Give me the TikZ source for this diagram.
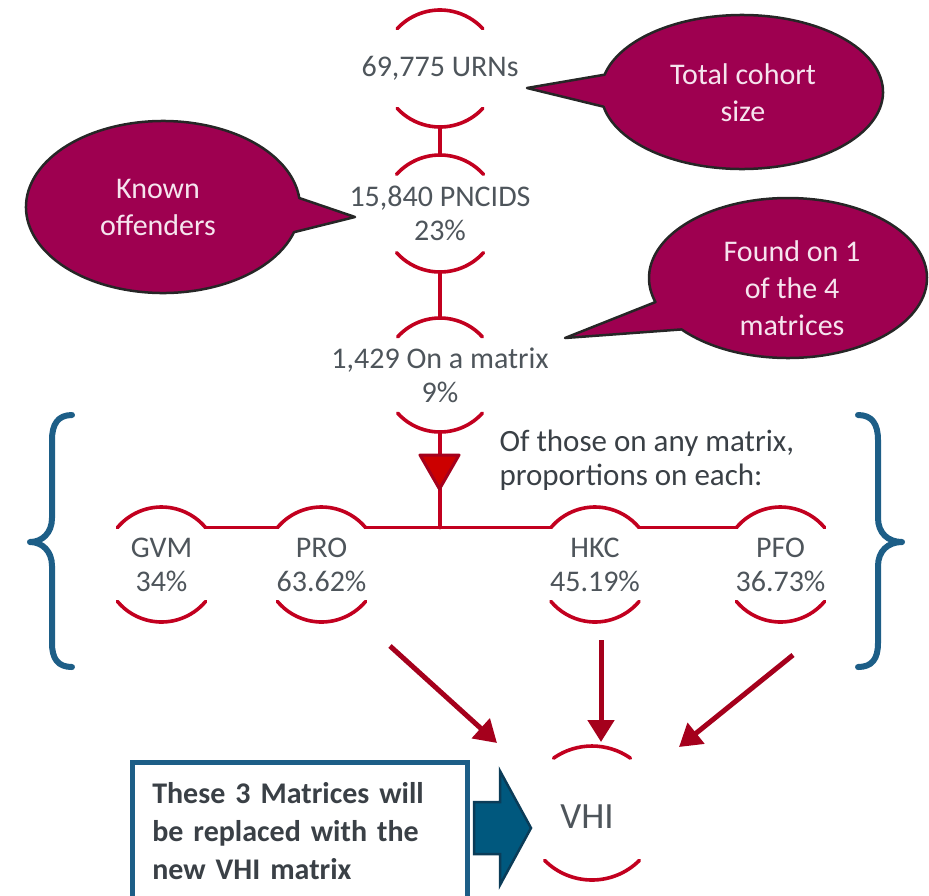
\documentclass[tikz,border=0pt]{standalone}
\usepackage{fontspec}
\setmainfont{Carlito}
\usetikzlibrary{arrows.meta,calc}
\definecolor{MXRed}{HTML}{C2001F}
\definecolor{MXDark}{HTML}{A5001C}
\definecolor{MXTri}{HTML}{CC0000}
\definecolor{MXPlum}{HTML}{9E0050}
\definecolor{MXBlue}{HTML}{1D5E87}
\definecolor{MXTeal}{HTML}{00587E}
\definecolor{MXDeep}{HTML}{0B3C58}
\definecolor{MXInk}{HTML}{4E555B}
\definecolor{MXText}{HTML}{3A4046}
\definecolor{MXPink}{HTML}{F6E4EE}

\tikzset{
  ringline/.style={MXRed,line width=3.6pt,line cap=round},
  ring/.style={circle,inner sep=0pt,outer sep=0pt},
  ringtext/.style={align=center,text=MXInk,font=\fontsize{30}{34}\selectfont},
  callout/.style={fill=MXPlum,draw=black!85,line width=2.5pt,line join=round},
  callouttext/.style={align=center,text=MXPink,font=\fontsize{30}{37}\selectfont},
  feed/.style={MXDark,line width=5pt,-{Triangle[length=22pt,width=26pt]}},
  bracket/.style={MXBlue,line width=6pt,line cap=round,line join=round},
}
% two arcs of a ring: node, radius, half opening of top arc, half opening of bottom arc
\newcommand\ringarcs[4]{%
  \draw[ringline] (#1.center) ++({-90-#3}:#2) arc[start angle={-90-#3},end angle={-90+#3},radius=#2];
  \draw[ringline] (#1.center) ++({90-#4}:#2) arc[start angle={90-#4},end angle={90+#4},radius=#2];
}

\begin{document}
\begin{tikzpicture}[x=1pt,y=-1pt]
\path[use as bounding box] (0,0) rectangle (929,895);

% callouts
\filldraw[callout] (742,92) ++(193:141 and 77) -- (527,88) -- ($(742,92)+(169:141 and 77)$) arc[start angle=169,end angle=-167,x radius=141,y radius=77] -- cycle;
\node[callouttext] (cohort) at (743,93) {Total cohort\\size};

\filldraw[callout] (163,207) ++(-6:137 and 86) -- (355,217) -- ($(163,207)+(17:137 and 86)$) arc[start angle=17,end angle=354,x radius=137,y radius=86] -- cycle;
\node[callouttext] (known) at (158,207) {Known\\offenders};

\filldraw[callout] (788,278) ++(162.5:139 and 80) -- (565,338) -- ($(788,278)+(140:139 and 80)$) arc[start angle=140,end angle=-197.5,x radius=139,y radius=80] -- cycle;
\node[callouttext] (found) at (792,288) {Found on 1\\of the 4\\matrices};

% funnel
\node[ring,minimum size=117,label={[ringtext]center:{69,775 URNs}}] (urns) at (440,68.5) {};
\ringarcs{urns}{58.5}{47}{47}
\node[ring,minimum size=117,label={[ringtext]center:{15,840 PNCIDS\\23\%}}] (pncids) at (440,213.5) {};
\ringarcs{pncids}{58.5}{48}{48}
\node[ring,minimum size=114,label={[ringtext]center:{1,429 On a matrix\\9\%}}] (onmatrix) at (440,375) {};
\ringarcs{onmatrix}{57}{48}{48}
\draw[ringline] (urns.south) -- (pncids.north);
\draw[ringline] (pncids.south) -- (onmatrix.north);

\node[anchor=west,align=left,text=MXText,font=\fontsize{31}{34}\selectfont] (ofthose) at (496,460) {Of those on any matrix,\\proportions on each:};

% the four matrices
\foreach \nm/\cx/\mlab/\pct in {gvm/161.5/GVM/34,pro/321.5/PRO/63.62,hkc/595/HKC/45.19,pfo/780.5/PFO/36.73}{
  \node[ring,minimum size=115,label={[ringtext]center:{\mlab\\\pct\%}}] (\nm) at (\cx,564.5) {};
  \ringarcs{\nm}{57.5}{50}{50}
}
\draw[ringline] (gvm.40) -- (pro.140);
\draw[ringline] (pro.40) -- (hkc.140);
\draw[ringline] (hkc.40) -- (pfo.140);
\draw[ringline] (onmatrix.south) -- (onmatrix.south |- pro.40);
\filldraw[fill=MXTri,draw=MXDark,line width=3pt,line join=round] (420,455) -- (459,455) -- (439.5,489) -- cycle;

% brackets
\draw[bracket] (72,415) .. controls (58,415) and (52,424) .. (52,440) -- (52,518) .. controls (52,533) and (42,542) .. (30,542) .. controls (42,542) and (52,551) .. (52,566) -- (52,643) .. controls (52,659) and (58,667) .. (72,667);
\draw[bracket] (858,415) .. controls (872,415) and (878,424) .. (878,440) -- (878,518) .. controls (878,533) and (888,542) .. (902,542) .. controls (888,542) and (878,551) .. (878,566) -- (878,643) .. controls (878,659) and (872,667) .. (858,667);

% new matrix
\node[ring,minimum size=134,label={[ringtext,font=\fontsize{37}{40}\selectfont,xshift=-5pt,yshift=-4pt]center:VHI}] (vhi) at (592,813) {};
\ringarcs{vhi}{67}{35}{45}
\coordinate (fromPRO) at (390,646);
\coordinate (toPRO) at (497,743);
\coordinate (fromHKC) at (601,640);
\coordinate (toHKC) at (601,742);
\coordinate (fromPFO) at (793,655);
\coordinate (toPFO) at (679,747);
\draw[feed] (fromPRO) -- (toPRO);
\draw[feed] (fromHKC) -- (toHKC);
\draw[feed] (fromPFO) -- (toPFO);

\node[draw=MXBlue,line width=4.5pt,anchor=north west,text width=295pt,inner xsep=20pt,inner ysep=20pt,align=left,text=MXText,font=\bfseries\fontsize{30}{38}\selectfont] (replace) at (130,760) {These 3 Matrices will\\be replaced with the\\new VHI matrix};
\filldraw[fill=MXTeal,draw=MXDeep,line width=2.5pt] (474,802) -- (500,802) -- (500,771) -- (531,828) -- (500,885) -- (500,854) -- (474,854) -- cycle;
\end{tikzpicture}
\end{document}
